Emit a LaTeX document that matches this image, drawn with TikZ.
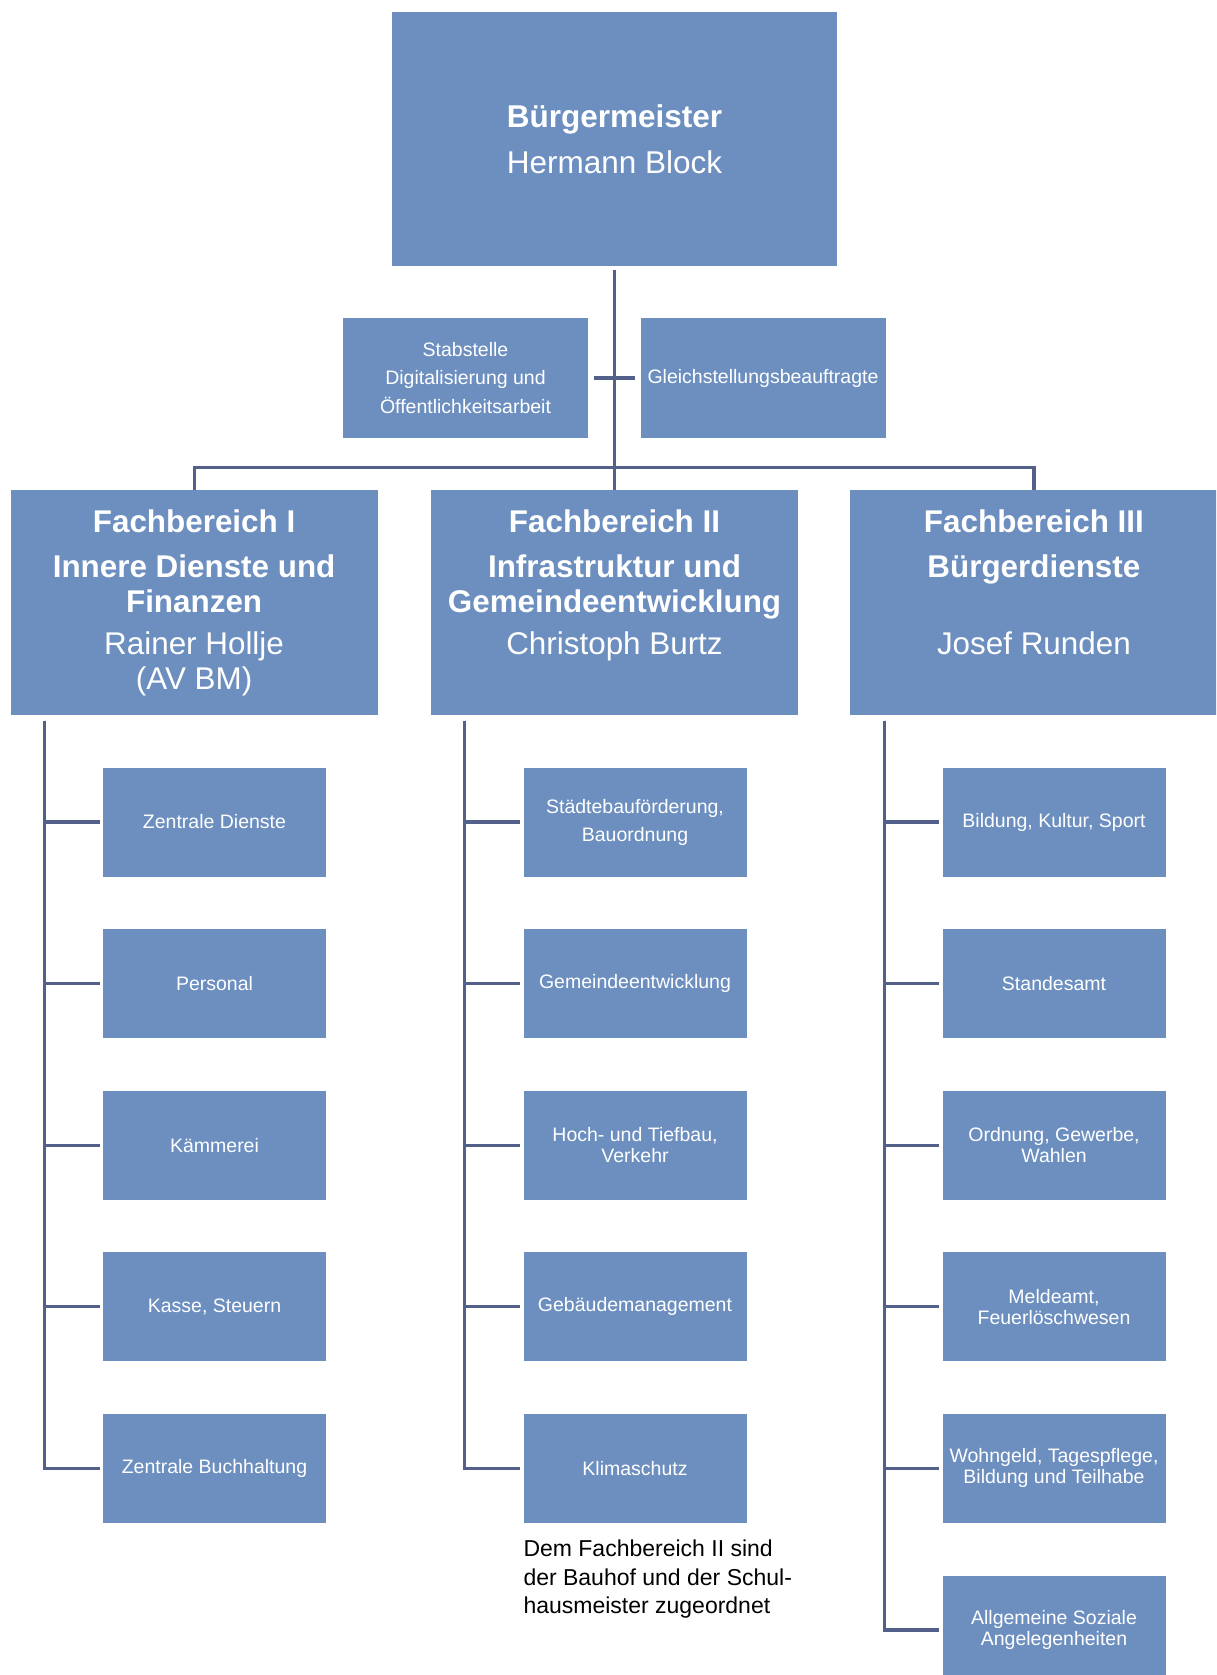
\documentclass[tikz,border=0pt]{standalone}
\usepackage{fontspec}
\setmainfont{Liberation Sans}
\usetikzlibrary{positioning}
\definecolor{boxblue}{RGB}{108,143,192}
\definecolor{linegrey}{RGB}{82,96,138}
\begin{document}
\begin{tikzpicture}
	[x=1pt, y=-1pt,
	every node/.style={fill=boxblue, text=white, align=center, inner sep=2pt},
	chief/.style={minimum width=445pt, minimum height=254pt, font=\fontsize{31.5}{36}\selectfont},
	staff/.style={minimum width=245pt, minimum height=120pt, font=\fontsize{19.5}{28.5}\selectfont},
	fbbox/.style={minimum width=367pt, minimum height=225pt, font=\fontsize{31.4}{35}\selectfont},
	subbox/.style={minimum width=223pt, minimum height=109pt, font=\fontsize{19.5}{21}\selectfont},
	notetext/.style={fill=none, text=black, align=left, inner sep=0pt, font=\fontsize{23}{28.5}\selectfont},
	conn/.style={draw=linegrey, line width=3.2pt}]
	\useasboundingbox (0,0) rectangle (1216,1675);
	\clip (0,0) rectangle (1216,1675);
	\node[chief] (bm) at (614.5,139) {\textbf{Bürgermeister}\\[10pt]Hermann Block};
	\node[staff] (stab) at (465.5,378) {Stabstelle\\Digitalisierung und\\Öffentlichkeitsarbeit};
	\node[staff] (gleich) at (763,378) {Gleichstellungsbeauftragte};
	\node[fbbox, below=224pt of bm] (fb2) {\textbf{Fachbereich II}\\[10pt]\textbf{Infrastruktur und}\\\textbf{Gemeindeentwicklung}\\[7pt]Christoph Burtz\\\vphantom{(}};
	\node[fbbox, left=53pt of fb2] (fb1) {\textbf{Fachbereich I}\\[10pt]\textbf{Innere Dienste und}\\\textbf{Finanzen}\\[7pt]Rainer Hollje\\(AV BM)};
	\node[fbbox, right=52pt of fb2] (fb3) {\textbf{Fachbereich III}\\[10pt]\textbf{Bürgerdienste}\\\vphantom{(}\\[7pt]Josef Runden\\\vphantom{(}};
	\node[subbox] (zd) at (214.5,822) {Zentrale Dienste};
	\node[subbox, below=52.2pt of zd] (pers) {Personal};
	\node[subbox, below=52.2pt of pers] (kaem) {Kämmerei};
	\node[subbox, below=52.2pt of kaem] (kasse) {Kasse, Steuern};
	\node[subbox, below=52.2pt of kasse] (buch) {Zentrale Buchhaltung};
	\node[subbox] (staedt) at (635,822) {Städtebauförderung,\\[7pt]Bauordnung};
	\node[subbox, below=52.2pt of staedt] (gemeinde) {Gemeindeentwicklung};
	\node[subbox, below=52.2pt of gemeinde] (hoch) {Hoch- und Tiefbau,\\Verkehr};
	\node[subbox, below=52.2pt of hoch] (gebaeude) {Gebäudemanagement};
	\node[subbox, below=52.2pt of gebaeude] (klima) {Klimaschutz};
	\node[subbox] (bildung) at (1054,822) {Bildung, Kultur, Sport};
	\node[subbox, below=52.2pt of bildung] (standes) {Standesamt};
	\node[subbox, below=52.2pt of standes] (ordnung) {Ordnung, Gewerbe,\\Wahlen};
	\node[subbox, below=52.2pt of ordnung] (melde) {Meldeamt,\\Feuerlöschwesen};
	\node[subbox, below=52.2pt of melde] (wohn) {Wohngeld, Tagespflege,\\Bildung und Teilhabe};
	\node[subbox, below=52.2pt of wohn] (soz) {Allgemeine Soziale\\Angelegenheiten};
	\node[notetext, below right=17pt and 0pt of klima.south west] (note) {Dem Fachbereich II sind\\der Bauhof und der Schul-\\hausmeister zugeordnet};
	\draw[conn, shorten <=4pt] (bm) -- (fb2);
	\draw[conn, shorten <=6pt, shorten >=5pt] (stab) -- (gleich);
	\draw[conn] (fb1.north) -- ++(0,-23) -| (fb3.north);
	\draw[conn] ([xshift=34pt,yshift=-5pt]fb1.south west) |- ([xshift=-3pt]zd.west);
	\draw[conn] ([xshift=34pt,yshift=-5pt]fb1.south west) |- ([xshift=-3pt]pers.west);
	\draw[conn] ([xshift=34pt,yshift=-5pt]fb1.south west) |- ([xshift=-3pt]kaem.west);
	\draw[conn] ([xshift=34pt,yshift=-5pt]fb1.south west) |- ([xshift=-3pt]kasse.west);
	\draw[conn] ([xshift=34pt,yshift=-5pt]fb1.south west) |- ([xshift=-3pt]buch.west);
	\draw[conn] ([xshift=34pt,yshift=-5pt]fb2.south west) |- ([xshift=-3pt]staedt.west);
	\draw[conn] ([xshift=34pt,yshift=-5pt]fb2.south west) |- ([xshift=-3pt]gemeinde.west);
	\draw[conn] ([xshift=34pt,yshift=-5pt]fb2.south west) |- ([xshift=-3pt]hoch.west);
	\draw[conn] ([xshift=34pt,yshift=-5pt]fb2.south west) |- ([xshift=-3pt]gebaeude.west);
	\draw[conn] ([xshift=34pt,yshift=-5pt]fb2.south west) |- ([xshift=-3pt]klima.west);
	\draw[conn] ([xshift=34pt,yshift=-5pt]fb3.south west) |- ([xshift=-3pt]bildung.west);
	\draw[conn] ([xshift=34pt,yshift=-5pt]fb3.south west) |- ([xshift=-3pt]standes.west);
	\draw[conn] ([xshift=34pt,yshift=-5pt]fb3.south west) |- ([xshift=-3pt]ordnung.west);
	\draw[conn] ([xshift=34pt,yshift=-5pt]fb3.south west) |- ([xshift=-3pt]melde.west);
	\draw[conn] ([xshift=34pt,yshift=-5pt]fb3.south west) |- ([xshift=-3pt]wohn.west);
	\draw[conn] ([xshift=34pt,yshift=-5pt]fb3.south west) |- ([xshift=-3pt]soz.west);
\end{tikzpicture}
\end{document}
